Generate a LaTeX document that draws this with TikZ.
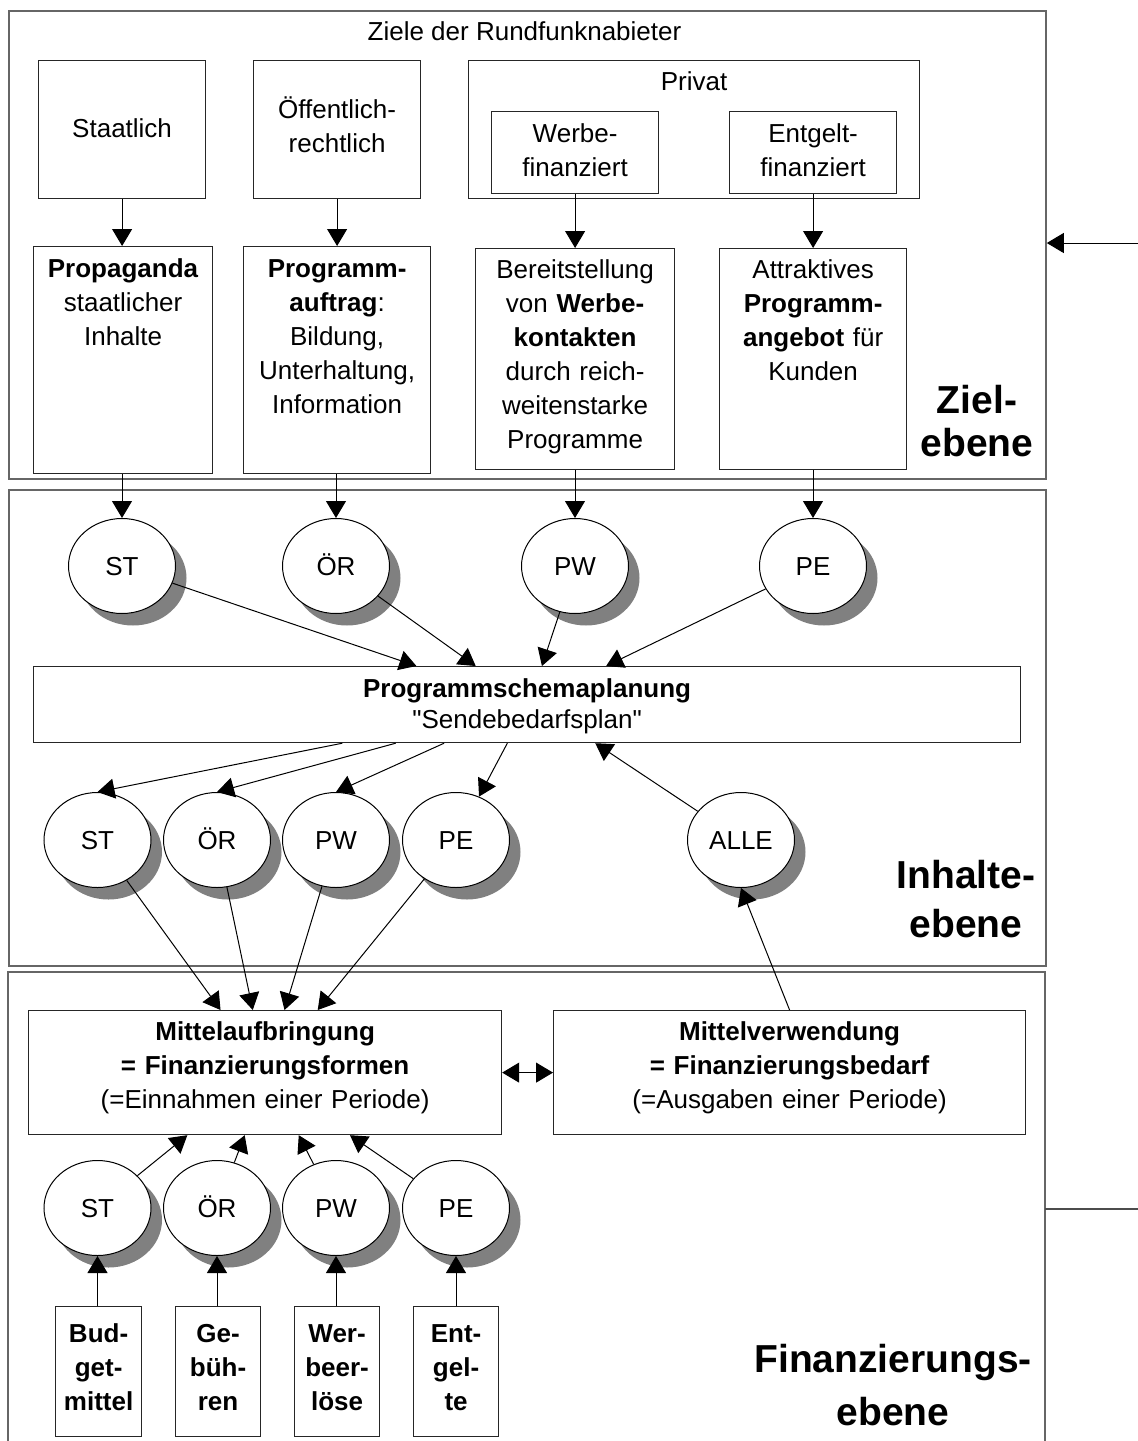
\documentclass[tikz,border=0pt]{standalone}
\usepackage{fontspec}
\setmainfont{Liberation Sans}[Ligatures=TeXOff]
\usetikzlibrary{arrows.meta,shapes.geometric,shadows,calc}
\begin{document}
\begin{tikzpicture}[x=0.5pt,y=-0.5pt,
  every node/.style={font=\fontsize{13pt}{17pt}\selectfont},
  frame/.style={draw=black!60, line width=0.9pt, inner sep=0pt, anchor=north west},
  bx/.style={draw=black!85, line width=0.6pt, inner sep=0pt, anchor=north west, align=center},
  sz/.style n args={3}{text width=#1, text height=#2, text depth=#3},
  circ/.style={ellipse, draw, line width=0.5pt, fill=white, minimum width=53.5pt, minimum height=47.5pt, inner sep=0pt,
    text height=9.3pt, text depth=0pt,
    drop shadow={shadow xshift=5.5pt, shadow yshift=-6pt, fill=black!50, opacity=1}},
  arr/.style={line width=0.5pt, -{Triangle[length=8.5pt,width=10pt]}},
  darr/.style={line width=0.5pt, {Triangle[length=8.5pt,width=10pt]}-{Triangle[length=8.5pt,width=10pt]}},
  big/.style={font=\fontsize{19.5pt}{21.5pt}\selectfont\bfseries, align=center, anchor=base},
]
\useasboundingbox (0,0) rectangle (1138,1441);

% frames
\node[frame, minimum width=518.5pt, minimum height=234pt] (f1) at (8,10) {};
\node[frame, minimum width=518.5pt, minimum height=238pt] (f2) at (8,489) {};
\coordinate (f3l) at (8,972);
\coordinate (f3r) at (1045,972);
\coordinate (f3lb) at (8,1441);
\coordinate (f3rb) at (1045,1441);
\draw[draw=black!60, line width=0.9pt] (f3lb) -- (f3l) -- (f3r) -- (f3rb);

% Zielebene
\node[anchor=base] (title) at (524.5,40) {Ziele der Rundfunknabieter};
\node[bx, sz={83.5pt}{38.5pt}{30.5pt}] (staat) at (38,60) {Staatlich};
\node[bx, sz={83.5pt}{29pt}{40pt}] (oeff) at (253,60) {Öffentlich-\\rechtlich};
\node[bx, sz={225.5pt}{15pt}{54pt}] (priv) at (468,60) {Privat};
\node[bx, sz={83.5pt}{15.5pt}{25.5pt}] (werbe) at (491,111) {Werbe-\\finanziert};
\node[bx, sz={83.5pt}{15.5pt}{25.5pt}] (entg) at (729,111) {Entgelt-\\finanziert};

\node[bx, sz={89.5pt}{15.5pt}{98pt}] (prop) at (33,246) {\textbf{Propaganda}\\staatlicher\\Inhalte};
\node[bx, sz={93.5pt}{15.5pt}{98pt}] (prog) at (243,246) {\textbf{Programm-}\\\textbf{auftrag}:\\Bildung,\\Unterhaltung,\\Information};
\node[bx, sz={99.5pt}{15pt}{95.5pt}] (bereit) at (475,248) {Bereitstellung\\von \textbf{Werbe-}\\\textbf{kontakten}\\durch reich-\\weitenstarke\\Programme};
\node[bx, sz={93.5pt}{15pt}{95.5pt}] (attr) at (719,248) {Attraktives\\\textbf{Programm-}\\\textbf{angebot} für\\Kunden};

\draw[arr] (staat.south) -- (staat.south |- prop.north);
\draw[arr] (oeff.south) -- (oeff.south |- prog.north);
\draw[arr] (werbe.south) -- (werbe.south |- bereit.north);
\draw[arr] (entg.south) -- (entg.south |- attr.north);

\node[big] (zl) at (977,456) {Ziel-\\ebene};

% right side marks
\coordinate (rin) at (1138,243);
\draw[arr] (rin) -- (f1.east |- rin);
\coordinate (rout) at (1138,1209);
\draw[line width=0.6pt, black!70] (f3r |- rout) -- (rout);

% Inhalteebene
\node[circ] (st1) at (122,566) {ST};
\node[circ] (oer1) at (336,566) {ÖR};
\node[circ] (pw1) at (575,566) {PW};
\node[circ] (pe1) at (813,566) {PE};

\draw[arr] (st1.north |- prop.south) -- (st1.north);
\draw[arr] (oer1.north |- prog.south) -- (oer1.north);
\draw[arr] (pw1.north |- bereit.south) -- (pw1.north);
\draw[arr] (pe1.north |- attr.south) -- (pe1.north);

\node[bx, sz={493.5pt}{15.5pt}{22.5pt}] (plan) at (33,666) {\textbf{Programmschemaplanung}\\[-1.5pt]"Sendebedarfsplan"};

\draw[arr] (st1) -- ($(plan.north west)!0.388!(plan.north east)$);
\draw[arr] (oer1) -- ($(plan.north west)!0.448!(plan.north east)$);
\draw[arr] (pw1) -- ($(plan.north west)!0.515!(plan.north east)$);
\draw[arr] (pe1) -- ($(plan.north west)!0.580!(plan.north east)$);

\node[circ] (st2) at (97.5,840) {ST};
\node[circ] (oer2) at (217,840) {ÖR};
\node[circ] (pw2) at (336,840) {PW};
\node[circ] (pe2) at (456,840) {PE};
\node[circ] (alle) at (741,840) {ALLE};

\draw[arr] ($(plan.south west)!0.313!(plan.south east)$) -- (st2.north);
\draw[arr] ($(plan.south west)!0.367!(plan.south east)$) -- (oer2.north);
\draw[arr] ($(plan.south west)!0.416!(plan.south east)$) -- (pw2.north);
\coordinate (pl4) at ($(plan.south west)!0.480!(plan.south east)$);
\draw[arr] (pl4) -- (pe2);
\draw[arr] (alle) -- ($(plan.south west)!0.569!(plan.south east)$);

\node[big] (il) at (966,937) {Inhalte-\\[3pt]ebene};

% Finanzierungsebene
\node[bx, sz={236.5pt}{15pt}{47pt}] (M) at (28,1010) {\textbf{Mittelaufbringung}\\\textbf{= Finanzierungsformen}\\(=Einnahmen einer Periode)};
\node[bx, sz={236pt}{15pt}{47pt}] (V) at (553,1010) {\textbf{Mittelverwendung}\\\textbf{= Finanzierungsbedarf}\\(=Ausgaben einer Periode)};

\draw[arr] (st2) -- ($(M.north west)!0.406!(M.north east)$);
\draw[arr] (oer2) -- ($(M.north west)!0.474!(M.north east)$);
\draw[arr] (pw2) -- ($(M.north west)!0.541!(M.north east)$);
\draw[arr] (pe2) -- ($(M.north west)!0.611!(M.north east)$);
\draw[arr] (V.north) -- (alle.south);
\draw[darr] (M.east) -- (V.west);

\node[circ] (st3) at (97.5,1208) {ST};
\node[circ] (oer3) at (217,1208) {ÖR};
\node[circ] (pw3) at (336,1208) {PW};
\node[circ] (pe3) at (456,1208) {PE};

\draw[arr] (st3) -- ($(M.south west)!0.336!(M.south east)$);
\draw[arr] (oer3) -- ($(M.south west)!0.457!(M.south east)$);
\draw[arr] (pw3) -- ($(M.south west)!0.571!(M.south east)$);
\draw[arr] (pe3) -- ($(M.south west)!0.679!(M.south east)$);

\node[bx, sz={43pt}{18pt}{47pt}, font=\fontsize{13pt}{17pt}\selectfont\bfseries] (bud) at (55,1306) {Bud-\\get-\\mittel};
\node[bx, sz={42.5pt}{18pt}{47pt}, font=\fontsize{13pt}{17pt}\selectfont\bfseries] (geb) at (175,1306) {Ge-\\büh-\\ren};
\node[bx, sz={42.5pt}{18pt}{47pt}, font=\fontsize{13pt}{17pt}\selectfont\bfseries] (werl) at (294,1306) {Wer-\\beer-\\löse};
\node[bx, sz={42.5pt}{18pt}{47pt}, font=\fontsize{13pt}{17pt}\selectfont\bfseries] (ent) at (413,1306) {Ent-\\gel-\\te};

\draw[arr] (st3.south |- bud.north) -- (st3.south);
\draw[arr] (oer3.south |- geb.north) -- (oer3.south);
\draw[arr] (pw3.south |- werl.north) -- (pw3.south);
\draw[arr] (pe3.south |- ent.north) -- (pe3.south);

\node[big] (fl) at (893,1425) {Finanzierungs-\\[5pt]ebene};
\end{tikzpicture}
\end{document}
